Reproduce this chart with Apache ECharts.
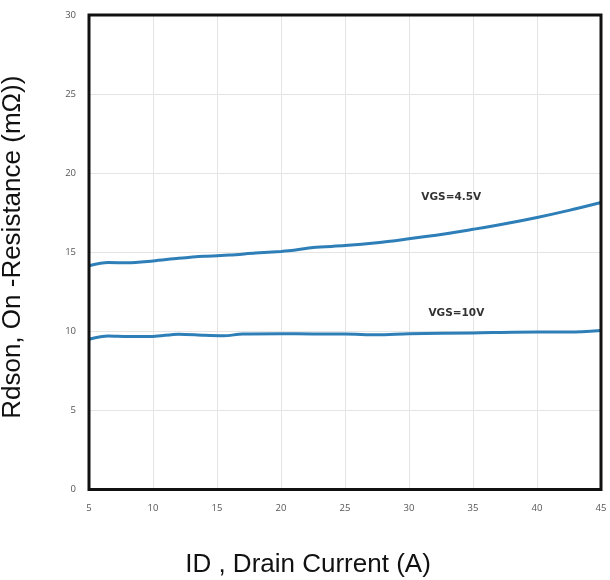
<!DOCTYPE html>
<html>
<head>
<meta charset="utf-8">
<script src="https://cdn.jsdelivr.net/npm/echarts@6/dist/echarts.min.js"></script>
<style>html,body{margin:0;padding:0;background:#fff}#c{width:610px;height:580px}</style>
</head>
<body>
<div id="c"></div>
<script>
var xTicks = [5, 10, 15, 20, 25, 30, 35, 40, 45];
var yTicks = [0, 5, 10, 15, 20, 25, 30];
var seriesNames = ['VGS=4.5V', 'VGS=10V'];
var vgs45 = [[5,14.15],[6.5,14.35],[8,14.33],[10,14.45],[12,14.62],[14,14.75],[16,14.82],[18,14.95],[20,15.05],[21,15.12],[22.5,15.3],[25,15.42],[27.5,15.6],[30,15.85],[32.5,16.12],[35,16.45],[37.5,16.8],[40,17.2],[42.5,17.65],[45,18.15]];
var vgs10 = [[5,9.5],[6.5,9.7],[8,9.67],[10,9.68],[12,9.82],[14,9.75],[15.5,9.72],[17,9.83],[20,9.85],[22.5,9.83],[25,9.83],[27.5,9.78],[30,9.85],[35,9.9],[40,9.95],[42.5,9.95],[45,10.05]];
var labelPos = [[33.3, 18.5], [33.7, 11.15]];

var chart = echarts.init(document.getElementById('c'), null, {renderer: 'canvas'});
var tickFont = {color: '#555', fontSize: 9.5, fontFamily: 'Open Sans'};
var G = {left: 89, right: 9, top: 15, bottom: 90.5};
chart.setOption({
  animation: false,
  grid: {left: G.left, right: G.right, top: G.top, bottom: G.bottom, containLabel: false, outerBoundsMode: 'none'},
  xAxis: {
    type: 'value', min: 5, max: 45, interval: 5,
    name: 'ID , Drain Current (A)', nameLocation: 'middle', nameGap: 62,
    nameTextStyle: {fontFamily: 'Liberation Sans', fontSize: 26, color: '#111', padding: [0, 74, 0, 0]},
    axisLine: {show: false},
    axisTick: {show: false},
    axisLabel: Object.assign({margin: 14}, tickFont),
    splitLine: {show: true, lineStyle: {color: '#e4e4e4', width: 1}}
  },
  yAxis: {
    type: 'value', min: 0, max: 30, interval: 5,
    name: 'Rdson, On -Resistance (mΩ))', nameLocation: 'middle', nameGap: 63,
    nameTextStyle: {fontFamily: 'Liberation Sans', fontSize: 26, color: '#111', padding: [0, 0, 0, 10]},
    axisLine: {show: false},
    axisTick: {show: false},
    axisLabel: Object.assign({margin: 13}, tickFont),
    splitLine: {show: true, lineStyle: {color: '#e4e4e4', width: 1}}
  },
  series: [
    {
      name: seriesNames[0], type: 'line', data: vgs45, smooth: 0.3, symbol: 'none',
      lineStyle: {color: '#2e7fb8', width: 3}, z: 3,
      markPoint: {
        symbol: 'rect', symbolSize: 1, itemStyle: {color: 'rgba(0,0,0,0)'},
        label: {show: true, formatter: seriesNames[0], color: '#333', fontSize: 10.5, fontWeight: 'bold', fontFamily: 'DejaVu Sans'},
        data: [{coord: labelPos[0]}]
      }
    },
    {
      name: seriesNames[1], type: 'line', data: vgs10, smooth: 0.3, symbol: 'none',
      lineStyle: {color: '#2e7fb8', width: 3}, z: 3,
      markPoint: {
        symbol: 'rect', symbolSize: 1, itemStyle: {color: 'rgba(0,0,0,0)'},
        label: {show: true, formatter: seriesNames[1], color: '#333', fontSize: 10.5, fontWeight: 'bold', fontFamily: 'DejaVu Sans'},
        data: [{coord: labelPos[1]}]
      }
    }
  ],
  graphic: [{
    type: 'rect', silent: true, z: 100,
    shape: {x: G.left, y: G.top, width: 610 - G.left - G.right, height: 580 - G.top - G.bottom},
    style: {fill: 'none', stroke: '#111', lineWidth: 3}
  }]
});
</script>
</body>
</html>
